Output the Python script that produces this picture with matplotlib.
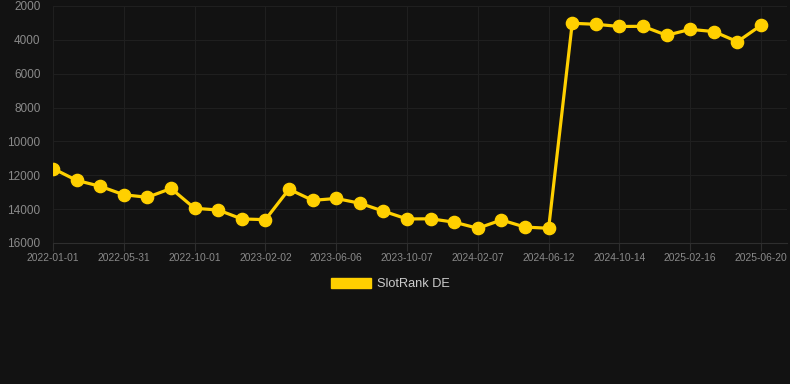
import matplotlib.pyplot as plt
from matplotlib.patches import Patch

# tick labels shown under the axis (every 3rd point)
tick_labels = ['2022-01-01', '2022-05-31', '2022-10-01', '2023-02-02', '2023-06-06',
               '2023-10-07', '2024-02-07', '2024-06-12', '2024-10-14', '2025-02-16',
               '2025-06-20']

# SlotRank DE values
rank = [11600, 12300, 12650, 13150, 13300, 12780, 13950, 14050, 14580, 14620,
        12820, 13480, 13370, 13650, 14120, 14580, 14570, 14770, 15130, 14640,
        15060, 15130, 3020, 3080, 3210, 3200, 3730, 3380, 3510, 4110, 3140]

bg = '#121212'
gold = '#FFD000'

plt.rcParams['font.family'] = ['Liberation Sans', 'DejaVu Sans']

fig = plt.figure(figsize=(7.9, 3.84), dpi=100, facecolor=bg)
ax = fig.add_axes([53 / 790, 1 - 243 / 384, 734 / 790, 237 / 384])
ax.set_facecolor(bg)

x = list(range(len(rank)))
ax.plot(x, rank, color=gold, linewidth=2.3, marker='o', markersize=8.8, zorder=3)

ax.set_ylim(16000, 2000)
ax.set_yticks(range(2000, 16001, 2000))
ax.set_xlim(0, 31.1)
ax.set_xticks(x[::3])
ax.set_xticklabels(tick_labels)

ax.grid(True, color='#1f1f1f', linewidth=0.8)
for side in ['top', 'right', 'left']:
    ax.spines[side].set_visible(False)
ax.spines['bottom'].set_color('#2e2e2e')
ax.tick_params(axis='y', length=0, labelsize=8.5, labelcolor='#8a8a8a', pad=9)
ax.tick_params(axis='x', length=6, color='#2e2e2e', labelsize=7.4, labelcolor='#8a8a8a', pad=1)

handle = Patch(facecolor=gold, edgecolor=gold)
fig.legend([handle], ['SlotRank DE'], loc='center', bbox_to_anchor=(0.494, 1 - 284 / 384),
           frameon=False, fontsize=9.2, labelcolor='#cccccc',
           handlelength=3.2, handleheight=0.9, handletextpad=0.45)

fig.savefig('out.png', dpi=100, facecolor=bg)
